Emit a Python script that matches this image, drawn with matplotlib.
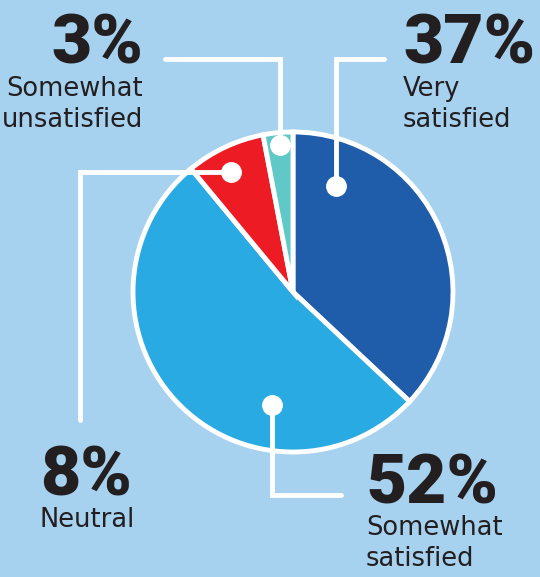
import matplotlib.pyplot as plt

# data
labels = ["Very\nsatisfied", "Somewhat\nsatisfied", "Neutral", "Somewhat\nunsatisfied"]
values = [37, 52, 8, 3]
colors = ["#1f5ca9", "#2aaae2", "#ed1c24", "#60c9c8"]

# leader lines in image pixels (x, y from top): dot first, then bends
leaders = [
    [(336, 186), (336, 59), (384, 59)],
    [(272, 405), (272, 495), (341, 495)],
    [(231, 172), (80, 172), (80, 420)],
    [(280, 145), (280, 59), (165, 59)],
]
# text anchors: (x, baseline y of percent, alignment)
text_pos = [
    (403, 64, "left"),
    (366, 503, "left"),
    (40, 495, "left"),
    (143, 64, "right"),
]

W, H = 540, 577
bg = "#a6d2f0"
ink = "#231f20"

fig = plt.figure(figsize=(W / 100, H / 100), dpi=100, facecolor=bg)
ax = fig.add_axes([0, 0, 1, 1])
ax.set_facecolor(bg)

def fy(y):
    return H - y

ax.pie(values, colors=colors, startangle=90, counterclock=False,
       center=(293, fy(292)), radius=160, frame=True,
       wedgeprops=dict(edgecolor="white", linewidth=3.5))

for pts in leaders:
    xs = [p[0] for p in pts]
    ys = [fy(p[1]) for p in pts]
    ax.plot(xs, ys, color="white", lw=3.5, solid_capstyle="round",
            solid_joinstyle="miter", zorder=5)
    ax.plot(xs[0], ys[0], "o", color="white", ms=14, zorder=6)

for (x, y, ha), v, lab in zip(text_pos, values, labels):
    ax.text(x, fy(y), f"{v}%", ha=ha, va="baseline", fontsize=50,
            fontfamily="Roboto", fontweight="black", color=ink)
    for i, line in enumerate(lab.split("\n")):
        ax.text(x, fy(y + 32 + 31 * i), line, ha=ha, va="baseline",
                fontsize=18.5, fontfamily="DejaVu Sans", color=ink)

ax.set_xlim(0, W)
ax.set_ylim(0, H)
ax.set_aspect("auto")
ax.axis("off")

fig.savefig("out.png", dpi=100, facecolor=bg)
